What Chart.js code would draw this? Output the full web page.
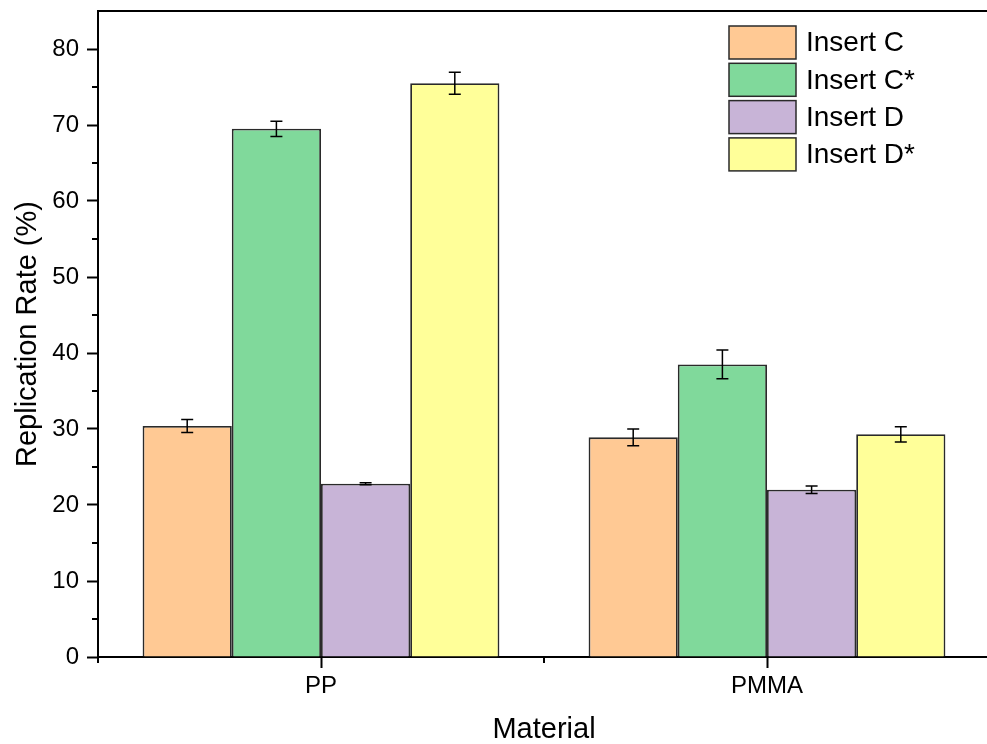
<!DOCTYPE html>
<html>
<head>
<meta charset="utf-8">
<script src="https://cdn.jsdelivr.net/npm/chart.js@4"></script>
<style>
  html, body { margin: 0; padding: 0; background: #fff; overflow: hidden; }
  #wrap { width: 995px; height: 744px; }
</style>
</head>
<body>
<div id="wrap"><canvas id="c"></canvas></div>
<script>
// Replication rate by material and insert type (mean ± standard deviation)
const materials = ['PP', 'PMMA'];
const seriesNames = ['Insert C', 'Insert C*', 'Insert D', 'Insert D*'];
const insertC      = [30.4, 28.9];
const insertCStar  = [69.5, 38.5];
const insertD      = [22.8, 22.0];
const insertDStar  = [75.5, 29.3];
const errC         = [0.85, 1.1];
const errCStar     = [1.0, 1.9];
const errD         = [0.12, 0.5];
const errDStar     = [1.45, 1.0];
const yTicks       = [0, 10, 20, 30, 40, 50, 60, 70, 80];

const fills = ['#FFC994', '#80D99B', '#C8B4D7', '#FFFF99'];
const FONT = '"Liberation Sans", Arial, sans-serif';

const values = [insertC, insertCStar, insertD, insertDStar];
const errors = [errC, errCStar, errD, errDStar];

const datasets = seriesNames.map((name, i) => ({
  label: name,
  data: values[i],
  errors: errors[i],
  backgroundColor: fills[i],
  borderColor: '#2a2a2a',
  borderWidth: 1.8,
  barPercentage: 1.0,
  categoryPercentage: 0.8
}));

// Error bars with caps, drawn from each dataset's error array
const errorBars = {
  id: 'errorBars',
  afterDatasetsDraw(chart) {
    const ctx = chart.ctx;
    const y = chart.scales.y;
    ctx.save();
    ctx.strokeStyle = '#000';
    ctx.lineWidth = 1.5;
    chart.data.datasets.forEach((ds, di) => {
      const meta = chart.getDatasetMeta(di);
      meta.data.forEach((bar, j) => {
        const v = ds.data[j], e = ds.errors[j];
        const yTop = y.getPixelForValue(v + e);
        const yBot = y.getPixelForValue(v - e);
        const cx = bar.x, cap = 6;
        ctx.beginPath();
        ctx.moveTo(cx, yTop); ctx.lineTo(cx, yBot);
        ctx.moveTo(cx - cap, yTop); ctx.lineTo(cx + cap, yTop);
        ctx.moveTo(cx - cap, yBot); ctx.lineTo(cx + cap, yBot);
        ctx.stroke();
      });
    });
    ctx.restore();
  }
};

// Frame: top line, minor ticks on both axes
const frame = {
  id: 'frame',
  afterDraw(chart) {
    const ctx = chart.ctx;
    const a = chart.chartArea;
    const y = chart.scales.y, x = chart.scales.x;
    ctx.save();
    ctx.strokeStyle = '#000';
    ctx.lineWidth = 2;
    ctx.beginPath();
    ctx.moveTo(a.left - 1, a.top);
    ctx.lineTo(a.right + 1, a.top);
    ctx.stroke();
    // y minor ticks
    ctx.beginPath();
    for (let v = 5; v < y.max; v += 10) {
      const py = Math.round(y.getPixelForValue(v));
      ctx.moveTo(a.left, py); ctx.lineTo(a.left - 6, py);
    }
    // x minor ticks at category boundaries
    const half = (x.getPixelForValue(1) - x.getPixelForValue(0)) / 2;
    for (let i = 0; i <= materials.length; i++) {
      const px = Math.round(x.getPixelForValue(0) - half + i * 2 * half);
      ctx.moveTo(px, a.bottom); ctx.lineTo(px, a.bottom + 6);
    }
    ctx.stroke();
    ctx.restore();
  }
};

// Legend drawn inside the plot area, top right
const innerLegend = {
  id: 'innerLegend',
  afterDraw(chart) {
    const ctx = chart.ctx;
    ctx.save();
    ctx.font = '28px ' + FONT;
    ctx.textBaseline = 'middle';
    ctx.textAlign = 'left';
    const bx = 729, bw = 67, bh = 33, step = 37.3;
    chart.data.datasets.forEach((ds, i) => {
      const by = 26 + i * step;
      ctx.fillStyle = ds.backgroundColor;
      ctx.fillRect(bx, by, bw, bh);
      ctx.strokeStyle = '#2a2a2a';
      ctx.lineWidth = 1.5;
      ctx.strokeRect(bx, by, bw, bh);
      ctx.fillStyle = '#000';
      ctx.fillText(ds.label, bx + bw + 10, by + bh / 2 + 1);
    });
    ctx.restore();
  }
};

new Chart(document.getElementById('c'), {
  type: 'bar',
  data: { labels: materials, datasets },
  options: {
    responsive: true,
    maintainAspectRatio: false,
    animation: false,
    layout: { padding: { top: 11, right: 5, left: 0, bottom: 0 } },
    plugins: { legend: { display: false }, tooltip: { enabled: false } },
    scales: {
      x: {
        offset: true,
        grid: { display: true, drawOnChartArea: false, drawTicks: true, tickLength: 11, tickWidth: 2, tickColor: '#000', offset: false },
        border: { display: true, color: '#000', width: 2 },
        ticks: { color: '#000', font: { family: FONT, size: 24 }, padding: 4, maxRotation: 0 },
        title: { display: true, text: 'Material', color: '#000', font: { family: FONT, size: 29, lineHeight: 1.0 }, padding: { top: 0, bottom: 0 } },
        afterFit(scale) { scale.height = 87; scale.paddingLeft = 0; scale.paddingRight = 0; }
      },
      y: {
        min: 0,
        max: 85,
        afterBuildTicks(scale) { scale.ticks = yTicks.map(v => ({ value: v })); },
        grid: { display: true, drawOnChartArea: false, drawTicks: true, tickLength: 11, tickWidth: 2, tickColor: '#000' },
        border: { display: true, color: '#000', width: 2 },
        ticks: { color: '#000', font: { family: FONT, size: 24 }, padding: 8 },
        title: { display: true, text: 'Replication Rate (%)', color: '#000', font: { family: FONT, size: 29, lineHeight: 1.0 }, padding: { top: 13, bottom: 0 } },
        afterFit(scale) { scale.width = 98; scale.paddingTop = 0; scale.paddingBottom = 0; }
      }
    }
  },
  plugins: [errorBars, frame, innerLegend]
});
</script>
</body>
</html>
